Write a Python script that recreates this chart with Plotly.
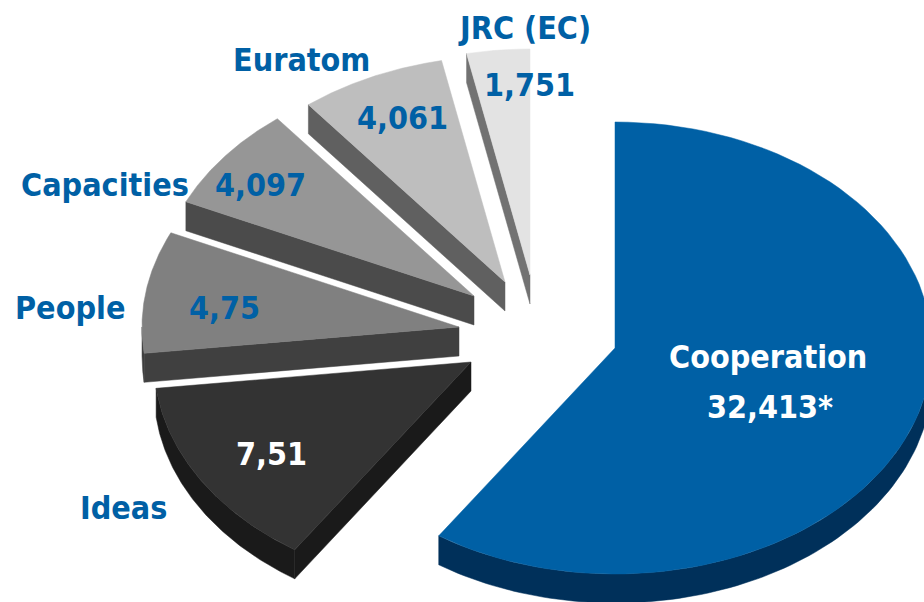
import math
import plotly.graph_objects as go

categories = ["Cooperation", "Ideas", "People", "Capacities", "Euratom", "JRC (EC)"]
values = [32.413, 7.51, 4.75, 4.097, 4.061, 1.751]
value_labels = ["32,413*", "7,51", "4,75", "4,097", "4,061", "1,751"]

# pixel-based drawing frame and slice styling
W, H = 924, 602
RX, RY = 317, 226
DEPTH = 29
apex = [(615, 348), (471, 362), (459, 327), (474, 296), (505, 282), (530, 275)]
top_col = ["#0060A5", "#333333", "#808080", "#969696", "#BEBEBE", "#E3E3E3"]
side_col = ["#00305A", "#1A1A1A", "#404040", "#4B4B4B", "#606060", "#727272"]
BLUE = "#0060A5"
FONT = "'DejaVu Sans Condensed', Tahoma, sans-serif"

name_pos = [(768, 357), (123, 508), (70, 308), (105, 185), (301, 60), (524, 28)]
val_pos = [(770, 407), (271, 454), (224, 308), (260, 185), (402, 118), (529, 85)]
val_col = ["white", "white", BLUE, BLUE, BLUE, BLUE]


def pt(c, a, dy=0):
    return (c[0] + RX * math.sin(a), c[1] - RY * math.cos(a) + dy)


def arc(c, a0, a1, dy=0, n=90):
    return [pt(c, a0 + (a1 - a0) * i / n, dy) for i in range(n + 1)]


def poly(fig, pts, col):
    xs = [p[0] for p in pts] + [pts[0][0]]
    ys = [p[1] for p in pts] + [pts[0][1]]
    fig.add_trace(go.Scatter(x=xs, y=ys, mode="lines", fill="toself", fillcolor=col,
                             line=dict(color=col, width=0.5), hoverinfo="skip",
                             showlegend=False))


fig = go.Figure()
total = sum(values)
a = 0.0
for i, v in enumerate(values):
    a0 = a
    a1 = a + v / total * 2 * math.pi
    a = a1
    c = apex[i]
    # rim on the visible lower half of the ellipse
    lo, hi = max(a0, math.pi / 2), min(a1, 3 * math.pi / 2)
    if hi > lo:
        poly(fig, arc(c, lo, hi) + arc(c, hi, lo, DEPTH), side_col[i])
    # radial wall facing the viewer
    if i > 0:
        s = pt(c, a0)
        poly(fig, [c, s, (s[0], s[1] + DEPTH), (c[0], c[1] + DEPTH)], side_col[i])
    # top face
    poly(fig, [c] + arc(c, a0, a1), top_col[i])

for i, name in enumerate(categories):
    fig.add_annotation(x=name_pos[i][0], y=name_pos[i][1], text=f"<b>{name}</b>", showarrow=False,
                       font=dict(family=FONT, size=32, color="white" if i == 0 else BLUE))
    fig.add_annotation(x=val_pos[i][0], y=val_pos[i][1], text=f"<b>{value_labels[i]}</b>", showarrow=False,
                       font=dict(family=FONT, size=32, color=val_col[i]))

fig.update_layout(width=W, height=H, margin=dict(l=0, r=0, t=0, b=0),
                  paper_bgcolor="white", plot_bgcolor="white", showlegend=False,
                  xaxis=dict(range=[0, W], visible=False, fixedrange=True),
                  yaxis=dict(range=[H, 0], visible=False, fixedrange=True))
fig.write_html("out.html", config={"displayModeBar": False},
               post_script="document.body.style.margin='0';document.documentElement.style.overflow='hidden';")
